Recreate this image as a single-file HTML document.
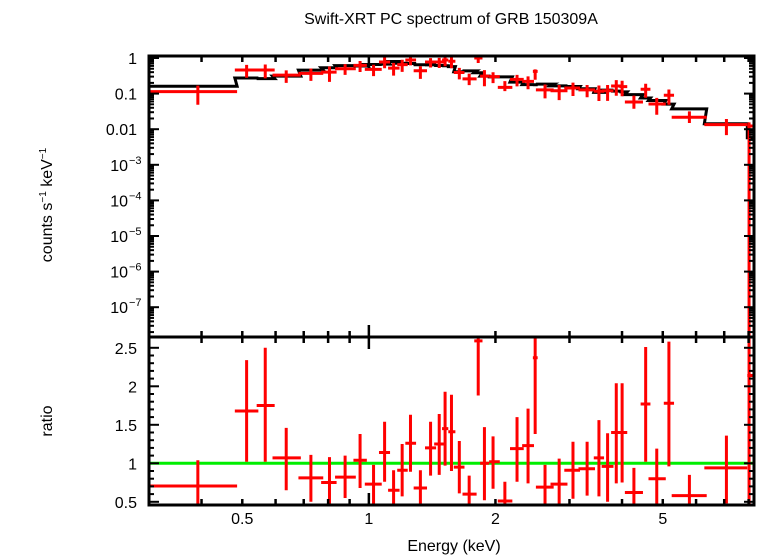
<!DOCTYPE html>
<html><head><meta charset="utf-8"><style>
body{margin:0;background:#fff;}
svg{display:block;font-family:"Liberation Sans",sans-serif;}
</style></head><body>
<svg id="chart" width="758" height="556" viewBox="0 0 758 556" xmlns="http://www.w3.org/2000/svg">
<defs>
<clipPath id="clipTop"><rect x="149" y="56" width="605" height="281"/></clipPath>
<clipPath id="clipBot"><rect x="149" y="337" width="605" height="168"/></clipPath>
</defs>
<text x="451" y="24" font-size="16" text-anchor="middle">Swift-XRT PC spectrum of GRB 150309A</text>
<text transform="translate(52,205) rotate(-90)" font-size="16" text-anchor="middle">counts s<tspan dy="-6" font-size="10">−1</tspan><tspan dy="6"> keV</tspan><tspan dy="-6" font-size="10">−1</tspan></text>
<text transform="translate(52,421) rotate(-90)" font-size="16" text-anchor="middle">ratio</text>
<text x="454" y="551" font-size="16" text-anchor="middle">Energy (keV)</text>
<g id="gTop"></g>
<g id="gBot"></g>
<g id="gAxes"></g>
</svg>
<script>
const eLo = [0.300,0.480,0.541,0.590,0.680,0.770,0.831,0.919,0.978,1.057,1.111,1.168,1.221,1.278,1.360,1.430,1.493,1.545,1.592,1.670,1.781,1.839,1.932,2.026,2.166,2.315,2.455,2.496,2.704,2.916,3.151,3.427,3.578,3.768,3.943,4.063,4.429,4.624,5.028,5.250,6.278,7.943];
const eHi = [0.486,0.546,0.597,0.689,0.779,0.838,0.931,0.989,1.073,1.123,1.183,1.237,1.295,1.375,1.445,1.512,1.545,1.606,1.688,1.804,1.863,1.932,2.048,2.194,2.335,2.470,2.520,2.751,2.967,3.178,3.450,3.625,3.817,3.994,4.116,4.486,4.673,5.083,5.318,6.360,7.943,8.24];
const eMid = [0.392,0.512,0.567,0.636,0.728,0.806,0.878,0.953,1.026,1.090,1.145,1.200,1.256,1.326,1.402,1.470,1.518,1.572,1.641,1.732,1.820,1.883,1.974,2.106,2.251,2.391,2.486,2.624,2.835,3.058,3.304,3.525,3.696,3.876,4.002,4.269,4.553,4.838,5.171,5.785,7.085,8.02];
const counts = [0.114,0.46,0.46,0.33,0.37,0.40,0.50,0.62,0.48,0.77,0.52,0.65,0.88,0.44,0.77,0.77,0.88,0.81,0.39,0.26,1.0,0.31,0.30,0.15,0.25,0.22,0.42,0.127,0.12,0.144,0.127,0.116,0.12,0.164,0.157,0.058,0.133,0.051,0.090,0.0216,0.0134,0.0123];
const ratio = [0.706,1.68,1.75,1.07,0.81,0.75,0.82,1.04,0.73,1.14,0.65,0.91,1.26,0.68,1.20,1.25,1.45,1.41,0.95,0.60,2.59,1.0,1.02,0.51,1.19,1.23,2.37,0.69,0.73,0.91,0.93,1.07,0.96,1.40,1.40,0.62,1.77,0.80,1.78,0.58,0.94,2.14];
const ratioUp = [1.04,2.34,2.50,1.46,1.11,1.08,1.10,1.38,0.98,1.54,0.91,1.25,1.63,0.91,1.54,1.64,1.93,1.89,1.29,0.84,2.70,1.47,1.35,0.76,1.60,1.71,2.70,0.98,1.06,1.28,1.28,1.56,1.39,2.04,2.04,0.94,2.51,1.19,2.58,0.85,1.36,2.70];
const ratioLo = [0.30,1.02,1.02,0.65,0.50,0.40,0.55,0.68,0.47,0.76,0.40,0.57,0.89,0.40,0.84,0.85,0.97,0.90,0.61,0.40,1.88,0.52,0.67,0.40,0.76,0.74,1.38,0.40,0.40,0.54,0.58,0.57,0.50,0.74,0.75,0.40,1.02,0.40,0.96,0.40,0.48,0.0];
const xTickLabels = ["0.5","1","2","5"];
const xTickVals = [0.5,1,2,5];
const yTopLabelVals = [1,0.1,0.01,1e-3,1e-4,1e-5,1e-6,1e-7];
const yTopLabels = ["1","0.1","0.01","10","10","10","10","10"];
const yTopExps = ["","","","−3","−4","−5","−6","−7"];
const yBotTickVals = [0.5,1,1.5,2,2.5];
const yBotLabels = ["0.5","1","1.5","2","2.5"];

const NS="http://www.w3.org/2000/svg";
const L=149,R=754,T=56,M=337,B=505;
const xmin=Math.log10(0.3),xmax=Math.log10(8.24);
function xs(e){return L+(Math.log10(e)-xmin)/(xmax-xmin)*(R-L);}
function yTop(c){ if(c<=0) return M+10; return 58-Math.log10(c)*35.6;}
function yBot(r){return 463.3-(r-1)*77;}
function mk(tag,attrs,parent){const el=document.createElementNS(NS,tag);for(const k in attrs)el.setAttribute(k,attrs[k]);parent.appendChild(el);return el;}
const gTop=document.getElementById('gTop'),gBot=document.getElementById('gBot'),gAx=document.getElementById('gAxes');
gTop.setAttribute('clip-path','url(#clipTop)');gBot.setAttribute('clip-path','url(#clipBot)');

let d="";
for(let i=0;i<eLo.length;i++){
  const m=counts[i]/ratio[i];
  const y=yTop(m);
  d+=(i===0?"M":"L")+xs(eLo[i])+","+y+" L"+xs(eHi[i])+","+y+" ";
}
const model=mk('path',{d:d,fill:'none',stroke:'#000','stroke-width':3},gTop);



const g1=mk('line',{x1:L,x2:R,y1:yBot(1),y2:yBot(1),stroke:'#00ee00','stroke-width':3},gBot);



for(let i=0;i<eLo.length;i++){
  const x0=xs(eLo[i]),x1=xs(eHi[i]),xm=xs(eMid[i]);
  const up=counts[i]*ratioUp[i]/ratio[i], lo=counts[i]*ratioLo[i]/ratio[i];
  const p=mk('path',{d:`M${x0},${yTop(counts[i])}L${x1},${yTop(counts[i])}M${xm},${yTop(up)}L${xm},${yTop(lo)}`,stroke:'#ff0000','stroke-width':3,fill:'none'},gTop);
  
  
  const q=mk('path',{d:`M${x0},${yBot(ratio[i])}L${x1},${yBot(ratio[i])}M${xm},${yBot(ratioUp[i])}L${xm},${yBot(ratioLo[i])}`,stroke:'#ff0000','stroke-width':3,fill:'none'},gBot);
  
  
}

for(const [y0,y1,n] of [[T,M,'top-frame'],[M,B,'bottom-frame']]){
  const f=mk('rect',{x:L,y:y0,width:R-L,height:y1-y0,fill:'none',stroke:'#000','stroke-width':3},gAx);
  
  
}
const minor=[0.4,0.5,0.6,0.7,0.8,0.9,1,2,3,4,5,6,7,8];
for(const v of minor){
  const x=xs(v);const len=(v===1)?12:6;
  for(const [ya,dir] of [[T,1],[M,-1],[M,1],[B,-1]]){
    mk('line',{x1:x,x2:x,y1:ya,y2:ya+dir*len,stroke:'#000','stroke-width':2.5},gAx);
  }
}
xTickVals.forEach((v,i)=>{
  const t=mk('text',{x:xs(v),y:524,'font-size':16,'text-anchor':'middle'},gAx);
  t.textContent=xTickLabels[i];
  
  
});
for(let e=0;e>=-8;e--){
  for(let k=1;k<10;k++){
    const v=k*Math.pow(10,e);const y=yTop(v);
    if(y<T||y>M)continue;
    const len=k===1?10:5;
    mk('line',{x1:L,x2:L+len,y1:y,y2:y,stroke:'#000','stroke-width':2},gAx);
    mk('line',{x1:R,x2:R-len,y1:y,y2:y,stroke:'#000','stroke-width':2},gAx);
  }
}
yTopLabelVals.forEach((v,i)=>{
  const t=mk('text',{x:yTopExps[i]?128:137,y:yTop(v)+6,'font-size':16,'text-anchor':'end'},gAx);
  t.textContent=yTopLabels[i];
  
  
  if(yTopExps[i]){
    const s=mk('text',{x:129,y:yTop(v)-1,'font-size':11,'text-anchor':'start'},gAx);
    s.textContent=yTopExps[i];
    
    
  }
});
for(let r=0.5;r<=2.6;r+=0.1){
  const y=yBot(r);const major=Math.abs(r*2-Math.round(r*2))<1e-6;
  const len=major?10:5;
  mk('line',{x1:L,x2:L+len,y1:y,y2:y,stroke:'#000','stroke-width':2},gAx);
  mk('line',{x1:R,x2:R-len,y1:y,y2:y,stroke:'#000','stroke-width':2},gAx);
}
yBotTickVals.forEach((v,i)=>{
  const t=mk('text',{x:137,y:yBot(v)+6,'font-size':16,'text-anchor':'end'},gAx);
  t.textContent=yBotLabels[i];
  
  
});
</script>
</body></html>
